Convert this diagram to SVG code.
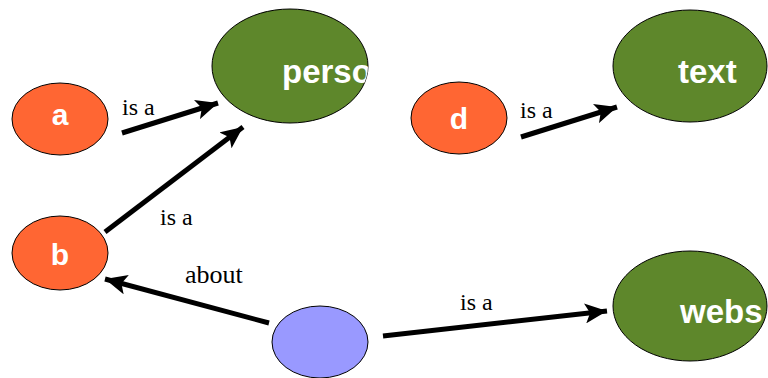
<svg xmlns="http://www.w3.org/2000/svg" width="768" height="378" viewBox="0 0 768 378">
<style>
.o{fill:#FF6633;stroke:#000;stroke-width:1}
.g{fill:#5E872B;stroke:#000;stroke-width:1}
.p{fill:#9999FF;stroke:#000;stroke-width:1}
.nt{font-family:"Liberation Sans",Arial,sans-serif;font-weight:bold;fill:#fff}
.lt{font-family:"Liberation Serif","Times New Roman",serif;font-size:24px;fill:#000}
.e{stroke:#000;stroke-width:5;fill:none;marker-end:url(#ah)}
</style>
<defs>
<marker id="ah" markerUnits="userSpaceOnUse" markerWidth="24" markerHeight="20" refX="22" refY="10" orient="auto">
<path d="M0,0 L22,10 L0,20 L5,10 Z" fill="#000"/>
</marker>
<clipPath id="cp"><ellipse cx="290" cy="66" rx="78" ry="57"/></clipPath>
</defs>
<rect width="768" height="378" fill="#fff"/>
<g id="edges">
<line class="e" x1="122" y1="133" x2="218" y2="103"/>
<line class="e" x1="105" y1="232" x2="243" y2="127"/>
<line class="e" x1="521" y1="137" x2="617" y2="107"/>
<line class="e" x1="269" y1="323" x2="105" y2="279"/>
<line class="e" x1="383" y1="336" x2="607" y2="311"/>
<text class="lt" x="122" y="115">is a</text>
<text class="lt" x="160" y="225">is a</text>
<text class="lt" x="520" y="118">is a</text>
<text class="lt" x="460" y="310">is a</text>
<text class="lt" x="185" y="283" style="font-size:26px">about</text>
</g>
<g id="person">
<ellipse class="g" cx="290" cy="66" rx="78" ry="57"/>
<text class="nt" x="282" y="83" font-size="33" clip-path="url(#cp)">perso</text>
</g>
<g id="text">
<ellipse class="g" cx="690" cy="66" rx="77" ry="56"/>
<text class="nt" x="678" y="83" font-size="33">text</text>
</g>
<g id="website">
<ellipse class="g" cx="690" cy="306" rx="77" ry="55"/>
<text class="nt" x="680" y="323" font-size="33">webs</text>
</g>
<g id="a">
<ellipse class="o" cx="60" cy="119" rx="48" ry="36"/>
<text class="nt" x="60" y="125" font-size="30" text-anchor="middle">a</text>
</g>
<g id="b">
<ellipse class="o" cx="60" cy="253" rx="48" ry="37"/>
<text class="nt" x="60" y="265" font-size="30" text-anchor="middle">b</text>
</g>
<g id="d">
<ellipse class="o" cx="459" cy="118" rx="48" ry="36"/>
<text class="nt" x="459" y="129" font-size="30" text-anchor="middle">d</text>
</g>
<g id="page">
<ellipse class="p" cx="320" cy="342" rx="48" ry="36"/>
</g>
</svg>
